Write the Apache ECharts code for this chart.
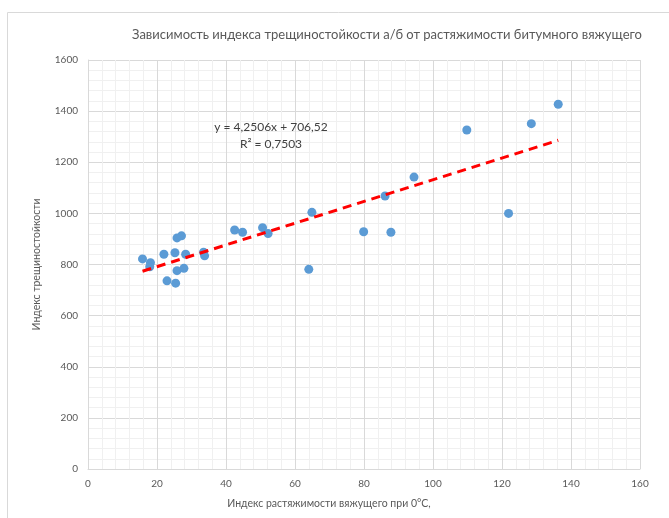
<!DOCTYPE html>
<html><head><meta charset="utf-8">
<script src="https://cdn.jsdelivr.net/npm/echarts@6/dist/echarts.min.js"></script>
<style>html,body{margin:0;padding:0;background:#fff}#c{width:669px;height:518px}</style>
</head><body><div id="c"></div>
<script>
const titleText = 'Зависимость индекса трещиностойкости а/б от растяжимости битумного вяжущего';
const xAxisName = 'Индекс растяжимости вяжущего при 0°С,';
const yAxisName = 'Индекс трещиностойкости';
const xValues = [15.8, 18.1, 17.9, 22.0, 22.9, 25.4, 25.2, 25.8, 27.1, 28.3, 25.8, 27.8, 33.5, 33.8, 42.5, 44.8, 50.6, 52.2, 64.9, 64.0, 79.9, 87.8, 86.1, 109.8, 128.5, 136.3, 121.9, 94.5];
const yValues = [822, 807, 791, 840, 736, 727, 846, 904, 912, 840, 776, 785, 848, 834, 935, 926, 944, 921, 1004, 781, 928, 926, 1068, 1326, 1351, 1427, 1000, 1142];
const trendSlope = 4.2506, trendIntercept = 706.52;
const eqLines = ['y = 4,2506x + 706,52', 'R² = 0,7503'];

const pts = xValues.map((x, i) => [x, yValues[i]]);
const xmin = Math.min(...xValues), xmax = Math.max(...xValues);
const trend = [[xmin, trendSlope * xmin + trendIntercept], [xmax, trendSlope * xmax + trendIntercept]];
const F = 'Lato, "Noto Sans", sans-serif';
const chart = echarts.init(document.getElementById('c'), null, {renderer: 'canvas'});
chart.setOption({
  animation: false,
  textStyle: {fontFamily: F},
  title: {text: titleText, left: 382, textAlign: 'center', top: 23,
    textStyle: {fontFamily: F, fontSize: 13, fontWeight: 'normal', color: '#595959'}},
  grid: {left: 88, right: 29, top: 60, bottom: 49, containLabel: false},
  xAxis: {type: 'value', min: 0, max: 160, interval: 20,
    name: xAxisName, nameLocation: 'middle', nameGap: 29,
    nameTextStyle: {fontFamily: F, fontSize: 10.5, color: '#595959', padding: [0, 70, 0, 0]},
    axisLine: {show: true, lineStyle: {color: '#d9d9d9'}}, axisTick: {show: false},
    axisLabel: {fontFamily: F, fontSize: 10, color: '#595959', margin: 10, formatter: v => String(v)},
    splitLine: {show: true, lineStyle: {color: '#d9d9d9'}},
    minorTick: {show: false, splitNumber: 5},
    minorSplitLine: {show: true, lineStyle: {color: '#f0f0f0'}}},
  yAxis: {type: 'value', min: 0, max: 1600, interval: 200,
    name: yAxisName, nameLocation: 'middle', nameGap: 46, nameRotate: 90,
    nameTextStyle: {fontFamily: F, fontSize: 10.5, color: '#595959'},
    axisLine: {show: true, lineStyle: {color: '#d9d9d9'}}, axisTick: {show: false},
    axisLabel: {fontFamily: F, fontSize: 10, color: '#595959', margin: 10, formatter: v => String(v)},
    splitLine: {show: true, lineStyle: {color: '#d9d9d9'}},
    minorTick: {show: false, splitNumber: 5},
    minorSplitLine: {show: true, lineStyle: {color: '#f0f0f0'}}},
  series: [
    {type: 'scatter', data: pts, symbolSize: 9, itemStyle: {color: '#5B9BD5', opacity: 1}, z: 3},
    {type: 'line', data: trend, symbol: 'none', z: 4,
     lineStyle: {color: '#FF0000', width: 3, type: [9, 6]}}
  ],
  graphic: [
    {type: 'rect', z: 0, shape: {x: 7.5, y: 12.5, width: 700, height: 540}, style: {fill: 'none', stroke: '#d9d9d9', lineWidth: 1}, silent: true},
    {type: 'text', z: 100, x: 271, y: 127, style: {text: eqLines[0], font: '12px ' + F, fill: '#404040', textAlign: 'center', textVerticalAlign: 'middle', backgroundColor: 'rgba(255,255,255,0)'}},
    {type: 'text', z: 100, x: 271, y: 144, style: {text: eqLines[1], font: '12px ' + F, fill: '#404040', textAlign: 'center', textVerticalAlign: 'middle'}}
  ]
});
</script></body></html>
